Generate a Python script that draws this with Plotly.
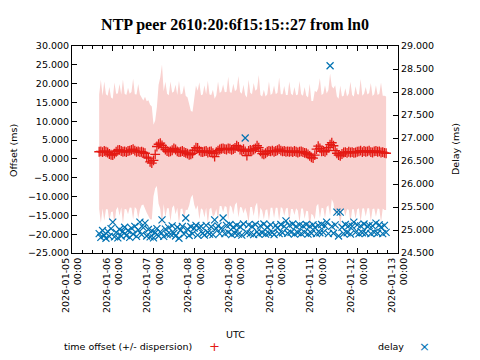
import pandas as pd
import plotly.graph_objects as go

# ---- data (hourly samples) ----
start_time = "2026-01-05 16:00"

offset_ms = [
    1.9, 2.0, 1.8, 2.1, 1.9, 1.7, 1.3, 1.1, 1.0, 1.4,
    1.9, 2.3, 2.4, 2.1, 1.9, 2.0, 1.8, 2.1, 2.2, 2.4,
    2.6, 2.2, 1.9, 2.0, 1.8, 1.9, 1.7, 1.5, 0.5, 0.2,
    -0.8, -1.1, -0.4, 1.2, 3.3, 3.9, 4.2, 3.6, 3.0, 2.5,
    2.1, 1.9, 2.0, 2.3, 2.8, 2.5, 2.0, 1.8, 1.9, 2.1,
    1.8, 1.6, 1.4, 1.1, 1.2, 1.5, 2.3, 3.0, 2.9, 2.2,
    1.9, 1.8, 2.0, 2.1, 1.7, 1.9, 2.0, 1.5, 0.6, 1.8,
    2.2, 2.5, 2.7, 2.8, 2.6, 2.5, 2.8, 2.7, 2.4, 2.6,
    2.9, 3.5, 3.2, 2.5, 2.2, 2.6, 2.0, 0.9, 2.1, 2.4,
    2.2, 2.5, 2.8, 3.5, 3.0, 2.0, 1.4, 1.2, 1.5, 1.9,
    2.1, 2.0, 2.2, 1.9, 2.1, 2.3, 2.6, 2.2, 2.0, 2.1,
    1.9, 2.0, 1.9, 2.0, 1.8, 2.1, 1.9, 1.7, 1.9, 2.0,
    1.8, 1.6, 1.5, 1.2, 0.8, 0.4, 0.2, 1.0, 2.6, 3.4,
    2.8, 2.0, 2.1, 1.9, 2.3, 3.0, 3.8, 4.3, 3.5, 2.2,
    1.5, 1.0, 0.8, 1.3, 1.7, 1.8, 1.6, 1.9, 1.7, 1.8,
    1.6, 1.7, 1.9, 2.0, 2.2, 1.8, 2.1, 1.9, 2.0, 2.2,
    1.8, 1.7, 2.0, 2.1, 1.9, 2.0, 1.7, 1.8, 1.6, 1.5,
]

dispersion_ms = [
    15.2, 19.0, 15.0, 18.5, 15.3, 15.1, 17.8, 15.2, 15.0, 18.9,
    15.4, 15.1, 17.5, 15.0, 19.2, 15.3, 15.2, 16.8, 15.1, 15.4,
    18.7, 15.0, 15.2, 17.9, 15.3, 14.2, 13.8, 15.0, 14.8, 15.4,
    15.2, 15.0, 9.5, 9.0, 10.5, 15.8, 17.5, 21.5, 15.0, 18.0,
    15.2, 15.0, 18.6, 15.3, 15.1, 17.2, 15.0, 19.0, 15.2, 15.3,
    17.8, 15.1, 15.0, 13.5, 11.5, 11.0, 14.5, 16.5, 15.2, 18.2,
    15.0, 15.3, 17.6, 15.1, 19.1, 15.2, 15.0, 16.9, 15.4, 15.1,
    18.4, 15.0, 15.2, 17.0, 15.1, 15.3, 19.0, 15.0, 15.2, 17.4,
    15.1, 15.0, 18.8, 15.3, 15.1, 17.1, 15.0, 15.4, 18.9, 15.2,
    15.0, 17.7, 15.3, 15.1, 19.3, 15.0, 15.2, 17.2, 15.1, 15.3,
    18.5, 15.0, 15.2, 17.6, 15.1, 15.3, 19.0, 15.0, 15.2, 17.3,
    15.1, 15.0, 18.7, 15.3, 15.1, 17.0, 15.0, 15.4, 18.8, 15.2,
    15.0, 17.5, 15.3, 15.1, 19.2, 15.0, 15.2, 17.1, 15.1, 15.3,
    18.6, 15.0, 15.2, 17.7, 15.1, 15.3, 18.9, 15.0, 15.2, 17.4,
    15.1, 15.0, 18.7, 15.3, 15.1, 17.0, 15.0, 15.4, 18.8, 15.2,
    15.0, 17.6, 15.3, 15.1, 19.0, 15.0, 15.2, 17.2, 15.1, 15.3,
    18.4, 15.0, 15.2, 17.5, 15.1, 15.3, 18.6, 15.0, 15.2, 15.1,
]

delay_ms = [
    24.92, 24.84, 24.99, 24.88, 24.82, 24.97, 24.86, 25.03, 25.17, 24.85,
    24.95, 24.83, 25.01, 24.87, 24.97, 25.06, 24.88, 24.99, 24.84, 25.04,
    24.91, 25.08, 24.86, 25.00, 25.17, 24.90, 25.05, 25.15, 24.87, 25.01,
    24.85, 24.98, 24.83, 24.94, 25.03, 24.87, 24.96, 25.22, 24.86, 25.02,
    24.90, 25.05, 24.91, 25.09, 24.93, 24.87, 25.06, 24.82, 25.00, 25.08,
    24.91, 25.26, 25.02, 24.88, 25.07, 24.92, 25.04, 25.10, 24.89, 25.05,
    25.08, 24.93, 24.89, 25.10, 24.95, 24.91, 25.07, 24.90, 25.22, 25.03,
    25.09, 24.92, 25.04, 25.26, 24.92, 25.10, 24.95, 25.12, 24.90, 25.06,
    24.93, 25.10, 24.91, 25.07, 24.89, 25.13, 27.00, 24.94, 25.11, 24.92,
    25.08, 24.90, 25.12, 24.96, 24.91, 25.09, 24.94, 25.13, 24.91, 25.06,
    24.93, 25.11, 24.95, 24.90, 25.10, 25.04, 24.92, 25.12, 24.94, 25.08,
    25.20, 24.93, 25.10, 24.95, 25.13, 24.91, 25.08, 24.94, 25.11, 24.92,
    25.09, 24.95, 25.12, 24.91, 25.08, 24.93, 25.11, 25.05, 24.92, 25.10,
    24.94, 25.12, 24.95, 25.09, 25.17, 24.92, 28.57, 25.08, 24.93, 25.11,
    25.39, 24.87, 25.39, 25.06, 24.92, 25.12, 24.94, 25.09, 24.91, 25.08,
    25.17, 24.95, 25.11, 24.92, 25.09, 24.94, 25.13, 24.93, 25.08, 25.10,
    24.92, 25.09, 24.95, 25.15, 24.93, 25.11, 25.06, 24.92, 25.10, 24.95,
]

times = pd.date_range(start_time, periods=len(offset_ms), freq="h")
upper = [o + d for o, d in zip(offset_ms, dispersion_ms)]
lower = [o - d for o, d in zip(offset_ms, dispersion_ms)]

RED = "rgb(228,26,20)"
BLUE = "rgb(0,114,178)"
BAND = "rgb(249,209,207)"
FONT = "DejaVu Sans"

fig = go.Figure()
fig.add_trace(go.Scatter(x=times, y=lower, mode="lines", line=dict(width=0),
                         hoverinfo="skip", showlegend=False))
fig.add_trace(go.Scatter(x=times, y=upper, mode="lines", line=dict(width=0),
                         fill="tonexty", fillcolor=BAND, showlegend=False))
fig.add_trace(go.Scatter(x=times, y=offset_ms, mode="markers", showlegend=False,
                         marker=dict(symbol="cross-thin-open", size=7, color=RED,
                                     line=dict(color=RED, width=1.3))))
fig.add_trace(go.Scatter(x=times, y=delay_ms, mode="markers", yaxis="y2",
                         showlegend=False,
                         marker=dict(symbol="x-thin-open", size=7, color=BLUE,
                                     line=dict(color=BLUE, width=1.2))))

# The page body has an 8px margin, so the figure is drawn 8px in from the
# screenshot's top-left corner; all screen positions are shifted by OFF.
OFF = 8
SW, SH = 480, 360
W, H = SW - OFF, SH - OFF
L, R, T, B = 72 - OFF, 398 - OFF, 46 - OFF, 253 - OFF
PW, PH = R - L, B - T


def px(x):
    return (x - OFF - L) / PW


def py(y):
    return (B - (y - OFF)) / PH


tickfont = dict(family=FONT, size=9.5, color="black")
fig.update_layout(
    width=W, height=H,
    margin=dict(l=L, r=W - R, t=T, b=H - B, pad=0, autoexpand=False),
    paper_bgcolor="white", plot_bgcolor="white",
    showlegend=False,
    title=dict(text="<b>NTP peer 2610:20:6f15:15::27 from ln0</b>",
               x=(235 - OFF) / W, xanchor="center", xref="container",
               y=1 - (24 - OFF) / H, yanchor="middle", yref="container",
               font=dict(family="Liberation Serif", size=16, color="black")),
    xaxis=dict(
        type="date", range=["2026-01-05", "2026-01-13"],
        dtick=86400000, tick0="2026-01-05", automargin=False,
        tickformat="%Y-%m-%d<br>%H:%M", tickangle=-90,
        ticks="inside", ticklen=5, tickcolor="black", tickwidth=1,
        showline=True, linecolor="black", linewidth=1, mirror="ticks",
        showgrid=False, zeroline=False, tickfont=tickfont,
        minor=dict(dtick=21600000, ticks="inside", ticklen=3,
                   tickcolor="black", showgrid=False),
    ),
    yaxis=dict(
        range=[-25, 30], dtick=5, tick0=0, tickformat=".3f", automargin=False,
        ticks="inside", ticklen=5, tickcolor="black",
        showline=True, linecolor="black", linewidth=1, mirror=False,
        showgrid=False, zeroline=False, tickfont=tickfont,
    ),
    yaxis2=dict(
        range=[24.5, 29], dtick=0.5, tick0=24.5, tickformat=".3f", automargin=False,
        overlaying="y", side="right",
        ticks="inside", ticklen=5, tickcolor="black",
        showline=True, linecolor="black", linewidth=1,
        showgrid=False, zeroline=False, tickfont=tickfont,
    ),
)

ann_font = dict(family=FONT, size=9.5, color="black")
annotations = [
    dict(text="Offset (ms)", x=px(13), y=py(151), textangle=-90),
    dict(text="Delay (ms)", x=px(455), y=py(149), textangle=-90),
    dict(text="UTC", x=px(235), y=py(334)),
    dict(text="time offset (+/- dispersion)", x=px(62), y=py(346), xanchor="left"),
    dict(text="delay", x=px(376), y=py(346), xanchor="left"),
]
for a in annotations:
    a.setdefault("xanchor", "center")
    fig.add_annotation(xref="paper", yref="paper", showarrow=False,
                       yanchor="middle", font=ann_font, **a)

fig.add_annotation(xref="paper", yref="paper", showarrow=False,
                   text="+", x=px(214), y=py(346), xanchor="center", yanchor="middle",
                   font=dict(family=FONT, size=13, color=RED))
fig.add_annotation(xref="paper", yref="paper", showarrow=False,
                   text="×", x=px(424), y=py(346), xanchor="center", yanchor="middle",
                   font=dict(family=FONT, size=13, color=BLUE))

fig.write_html("out.html")
